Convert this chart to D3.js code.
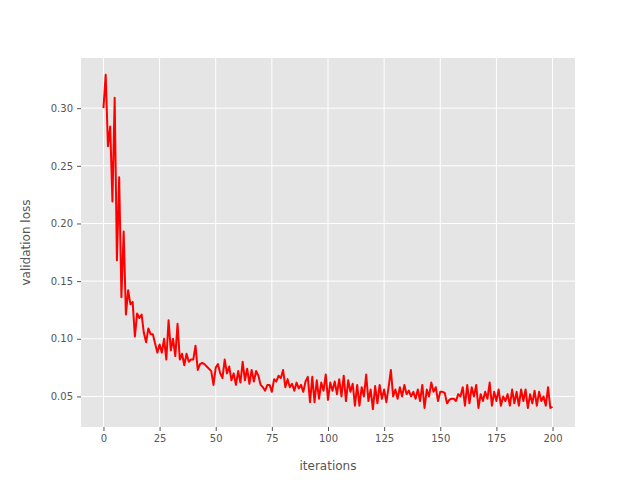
<!DOCTYPE html>
<html lang="en">
<head>
<meta charset="UTF-8">
<script src="https://cdn.jsdelivr.net/npm/d3@7"></script>
<style>
  body { margin: 0; background: #fff; }
  text { font-family: "DejaVu Sans", sans-serif; }
</style>
</head>
<body>
<div id="chart"></div>
<script>
// validation loss per iteration
const loss = [
  0.300, 0.329, 0.267, 0.284, 0.219, 0.309, 0.168, 0.240, 0.136, 0.193,
  0.121, 0.142, 0.130, 0.132, 0.102, 0.122, 0.118, 0.121, 0.105, 0.097,
  0.109, 0.104, 0.104, 0.096, 0.088, 0.095, 0.088, 0.100, 0.082, 0.116,
  0.090, 0.100, 0.085, 0.113, 0.082, 0.087, 0.077, 0.087, 0.080, 0.082,
  0.082, 0.094, 0.073, 0.078, 0.079, 0.078, 0.076, 0.074, 0.072, 0.060,
  0.075, 0.078, 0.070, 0.066, 0.082, 0.070, 0.076, 0.064, 0.070, 0.060,
  0.072, 0.062, 0.080, 0.064, 0.074, 0.061, 0.073, 0.063, 0.072, 0.068,
  0.060, 0.058, 0.055, 0.060, 0.060, 0.054, 0.065, 0.063, 0.068, 0.066,
  0.073, 0.058, 0.065, 0.058, 0.061, 0.055, 0.062, 0.057, 0.060, 0.054,
  0.063, 0.067, 0.045, 0.067, 0.045, 0.064, 0.048, 0.062, 0.055, 0.069,
  0.047, 0.062, 0.055, 0.063, 0.052, 0.065, 0.050, 0.068, 0.046, 0.064,
  0.054, 0.061, 0.042, 0.060, 0.042, 0.058, 0.050, 0.069, 0.046, 0.056,
  0.039, 0.059, 0.044, 0.060, 0.048, 0.056, 0.045, 0.058, 0.073, 0.050,
  0.056, 0.048, 0.058, 0.050, 0.060, 0.052, 0.055, 0.050, 0.054, 0.048,
  0.056, 0.046, 0.060, 0.040, 0.056, 0.050, 0.062, 0.054, 0.058, 0.046,
  0.054, 0.054, 0.053, 0.044, 0.047, 0.048, 0.048, 0.046, 0.052, 0.050,
  0.058, 0.042, 0.060, 0.044, 0.058, 0.050, 0.060, 0.040, 0.052, 0.046,
  0.054, 0.048, 0.062, 0.042, 0.054, 0.046, 0.056, 0.042, 0.050, 0.046,
  0.052, 0.042, 0.056, 0.044, 0.054, 0.042, 0.056, 0.046, 0.056, 0.040,
  0.052, 0.044, 0.055, 0.042, 0.054, 0.046, 0.050, 0.042, 0.058, 0.040,
  0.041
];
const xTicks = [0, 25, 50, 75, 100, 125, 150, 175, 200];
const yTicks = [0.05, 0.10, 0.15, 0.20, 0.25, 0.30];

const width = 640, height = 480;
const margin = {top: 58, right: 65, bottom: 53, left: 81};

const svg = d3.select("#chart").append("svg")
    .attr("width", width).attr("height", height);

svg.append("rect")
    .attr("x", margin.left).attr("y", margin.top)
    .attr("width", width - margin.left - margin.right)
    .attr("height", height - margin.top - margin.bottom)
    .attr("fill", "#e5e5e5");

const x = d3.scaleLinear().domain([-10, 210])
    .range([margin.left, width - margin.right]);
const y = d3.scaleLinear().domain([0.0235, 0.3435])
    .range([height - margin.bottom, margin.top]);

// grid
svg.append("g").selectAll("line").data(xTicks).enter().append("line")
    .attr("x1", d => x(d)).attr("x2", d => x(d))
    .attr("y1", margin.top).attr("y2", height - margin.bottom)
    .attr("stroke", "#fff").attr("stroke-width", 1);
svg.append("g").selectAll("line").data(yTicks).enter().append("line")
    .attr("y1", d => y(d)).attr("y2", d => y(d))
    .attr("x1", margin.left).attr("x2", width - margin.right)
    .attr("stroke", "#fff").attr("stroke-width", 1);

// axes
const xAxis = svg.append("g")
    .attr("transform", `translate(0,${height - margin.bottom})`)
    .call(d3.axisBottom(x).tickValues(xTicks).tickSize(4).tickPadding(4));
const yAxis = svg.append("g")
    .attr("transform", `translate(${margin.left},0)`)
    .call(d3.axisLeft(y).tickValues(yTicks).tickFormat(d3.format(".2f")).tickSize(4).tickPadding(4));
[xAxis, yAxis].forEach(a => {
    a.select(".domain").remove();
    a.selectAll("line").attr("stroke", "#555");
    a.selectAll("text").attr("fill", "#555").style("font-size", "10px");
});

svg.append("text")
    .attr("x", (margin.left + width - margin.right) / 2).attr("y", 470)
    .attr("text-anchor", "middle").attr("fill", "#555").style("font-size", "12px")
    .text("iterations");
svg.append("text")
    .attr("transform", `translate(30,${(margin.top + height - margin.bottom) / 2}) rotate(-90)`)
    .attr("text-anchor", "middle").attr("fill", "#555").style("font-size", "12px")
    .text("validation loss");

const line = d3.line().x((d, i) => x(i)).y(d => y(d));
svg.append("path").datum(loss)
    .attr("d", line)
    .attr("fill", "none").attr("stroke", "red").attr("stroke-width", 2)
    .attr("stroke-linejoin", "round");
</script>
</body>
</html>
